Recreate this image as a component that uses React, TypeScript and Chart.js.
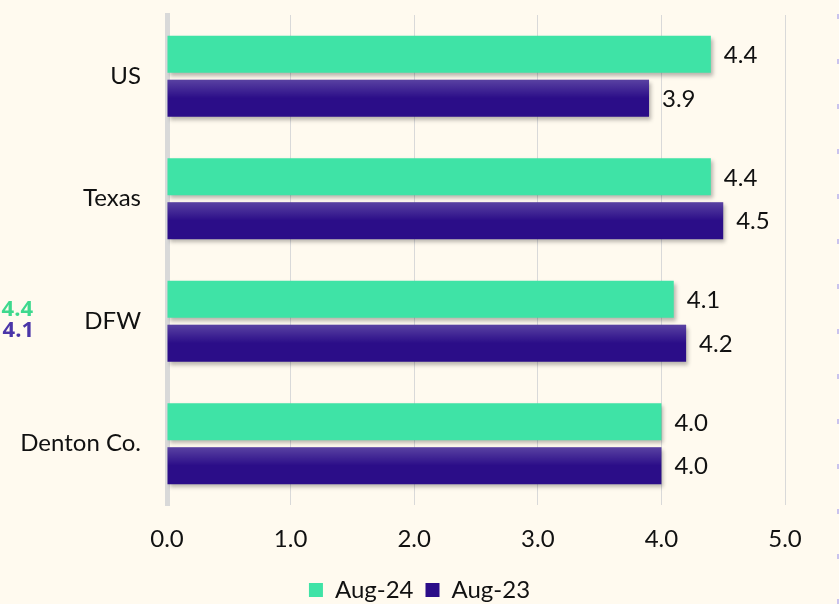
import React, { useEffect, useRef } from "react";
import { Chart, registerables } from "chart.js";

Chart.register(...registerables);

const categories = ["US", "Texas", "DFW", "Denton Co."];
const seriesNames = ["Aug-24", "Aug-23"];
const aug24 = [4.4, 4.4, 4.1, 4.0];
const aug23 = [3.9, 4.5, 4.2, 4.0];
const xTicks = [0, 1, 2, 3, 4, 5];
const sideValues = ["4.4", "4.1"];

const GREEN = "#3fe3a6";
const PURPLE = "#2b0d88";
const BG = "#fffaef";
const FONT = "Lato, 'Open Sans', sans-serif";

const effectsPlugin = {
  id: "effects",
  beforeDatasetsDraw(chart: any) {
    const ctx = chart.ctx;
    ctx.save();
    ctx.shadowColor = "rgba(0,0,0,0.28)";
    ctx.shadowBlur = 4;
    ctx.shadowOffsetX = 2;
    ctx.shadowOffsetY = 3;
  },
  afterDatasetsDraw(chart: any) {
    const ctx = chart.ctx;
    ctx.restore();
    const meta1 = chart.getDatasetMeta(1);
    meta1.data.forEach((bar: any) => {
      const top = bar.y - bar.height / 2;
      const h = bar.height;
      const g = ctx.createLinearGradient(0, top, 0, top + h * 0.5);
      g.addColorStop(0, "rgba(255,255,255,0.22)");
      g.addColorStop(1, "rgba(255,255,255,0)");
      ctx.save();
      ctx.fillStyle = g;
      ctx.fillRect(bar.base, top, bar.x - bar.base, h * 0.5);
      ctx.restore();
    });
    ctx.save();
    ctx.font = `24px ${FONT}`;
    ctx.fillStyle = "#111111";
    ctx.textAlign = "left";
    ctx.textBaseline = "middle";
    chart.data.datasets.forEach((ds: any, di: number) => {
      const meta = chart.getDatasetMeta(di);
      meta.data.forEach((bar: any, i: number) => {
        ctx.fillText(Number(ds.data[i]).toFixed(1), bar.x + 13, bar.y + 1);
      });
    });
    ctx.restore();
  },
  afterDraw(chart: any) {
    const ctx = chart.ctx;
    ctx.save();
    ctx.font = `bold 22px 'Open Sans', sans-serif`;
    ctx.textAlign = "right";
    ctx.textBaseline = "middle";
    ctx.fillStyle = "#3ed88e";
    ctx.fillText(sideValues[0], 33, 310);
    ctx.fillStyle = "#4a35a8";
    ctx.fillText(sideValues[1], 34, 331);
    ctx.strokeStyle = "rgba(150,140,235,0.5)";
    ctx.lineWidth = 2;
    ctx.setLineDash([5, 40]);
    ctx.beginPath();
    ctx.moveTo(838, 14);
    ctx.lineTo(838, 604);
    ctx.stroke();
    ctx.restore();
  },
};

export default function App() {
  const ref = useRef<HTMLCanvasElement | null>(null);

  useEffect(() => {
    if (!ref.current) return;
    const chart = new Chart(ref.current, {
      type: "bar",
      data: {
        labels: categories,
        datasets: [
          {
            label: seriesNames[0],
            data: aug24,
            backgroundColor: GREEN,
            borderWidth: 0,
            categoryPercentage: 0.717,
            barPercentage: 0.84,
          },
          {
            label: seriesNames[1],
            data: aug23,
            backgroundColor: PURPLE,
            borderWidth: 0,
            categoryPercentage: 0.717,
            barPercentage: 0.84,
          },
        ],
      },
      options: {
        indexAxis: "y",
        responsive: false,
        animation: false,
        layout: { padding: { top: 15, right: 0, left: 0, bottom: -8 } },
        scales: {
          x: {
            min: 0,
            max: 5,
            afterFit: (s: any) => {
              s.height = 61;
            },
            afterBuildTicks: (s: any) => {
              s.ticks = xTicks.map((v) => ({ value: v }));
            },
            ticks: {
              padding: 20,
              color: "#111111",
              font: { family: FONT, size: 24 },
              callback: (v: any) => Number(v).toFixed(1),
            },
            grid: {
              color: "#d9d9d9",
              lineWidth: 1,
              drawTicks: false,
            },
            border: { display: false },
          },
          y: {
            afterFit: (s: any) => {
              s.width = 167;
              s.paddingTop = 0;
              s.paddingBottom = 0;
            },
            ticks: {
              padding: 26,
              color: "#111111",
              font: { family: FONT, size: 24 },
            },
            grid: { display: false, drawTicks: false },
            border: { display: true, color: "#d9d9d9", width: 5 },
          },
          yRight: {
            type: "category",
            position: "right",
            labels: categories,
            afterFit: (s: any) => {
              s.width = 54;
              s.paddingTop = 0;
              s.paddingBottom = 0;
            },
            ticks: { display: false },
            grid: { display: false, drawTicks: false },
            border: { display: false },
          },
        },
        plugins: {
          legend: {
            position: "bottom",
            labels: {
              boxWidth: 14,
              boxHeight: 14,
              color: "#111111",
              font: { family: FONT, size: 24 },
              padding: 12,
            },
          },
          tooltip: { enabled: false },
        },
      },
      plugins: [effectsPlugin],
    } as any);
    return () => chart.destroy();
  }, []);

  return (
    <div
      style={{
        position: "fixed",
        left: 0,
        top: 0,
        width: 839,
        height: 604,
        background: BG,
        overflow: "hidden",
      }}
    >
      <canvas ref={ref} width={839} height={604} style={{ display: "block" }} />
    </div>
  );
}
